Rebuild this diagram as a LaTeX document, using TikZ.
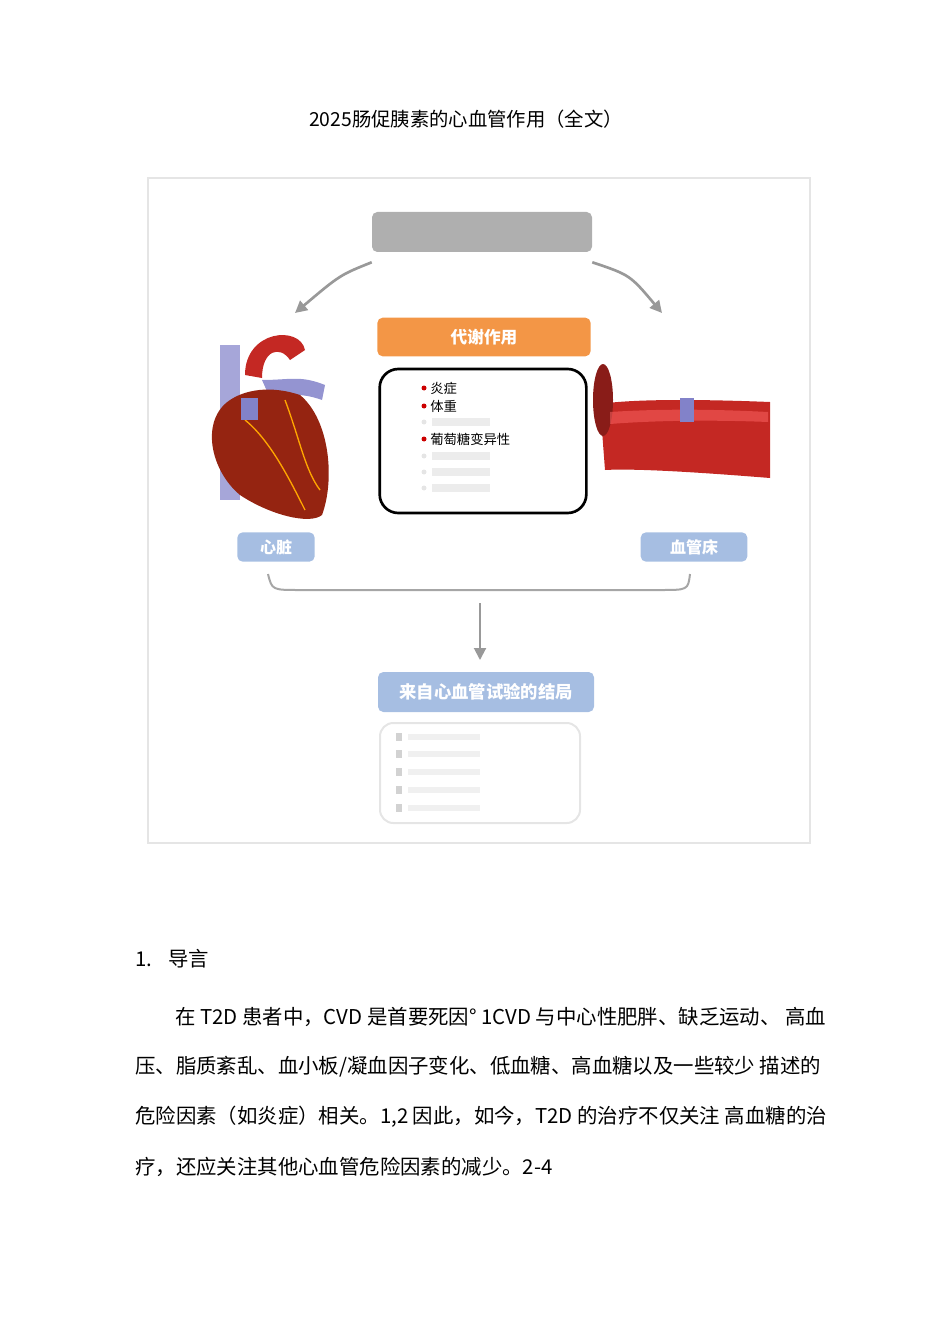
\documentclass[tikz,border=0pt]{standalone}
\usepackage{fontspec}
\newfontfamily\cjk{Noto Sans CJK SC}
\usetikzlibrary{arrows.meta}
\definecolor{lblue}{RGB}{166,190,226}
\definecolor{orng}{RGB}{243,150,70}
\definecolor{gbox}{RGB}{175,175,175}
\definecolor{redv}{RGB}{196,40,35}
\definecolor{darkred}{RGB}{130,20,20}
\tikzset{
 lbl/.style={fill=lblue,rounded corners=4pt,text=white,font=\cjk\fontsize{12}{14}\selectfont\bfseries},
 body/.style={anchor=west,font=\cjk\fontsize{15.3}{17}\selectfont,inner sep=0pt},
 bul/.style={anchor=west,font=\cjk\fontsize{10}{12}\selectfont,inner sep=0pt},
 garrow/.style={draw=gray!80,line width=2pt,-{Triangle[length=9pt,width=9pt]}},
}
\begin{document}
\begin{tikzpicture}[x=0.75pt,y=-0.75pt]
\useasboundingbox (0,0) rectangle (950,1344);
\node[font=\cjk\fontsize{14.5}{16}\selectfont] (title) at (466,119) {2025肠促胰素的心血管作用（全文）};
\draw[gray!20,line width=1.5pt] (148,178) rectangle (810,843);
% top gray box
\node[fill=gbox,rounded corners=4pt,minimum width=165pt,minimum height=30pt] (top) at (482,232) {};
\coordinate (la) at (295,313);
\coordinate (ra) at (662,313);
\draw[garrow] (top.south west)++(0,10) .. controls (340,275) .. (la);
\draw[garrow] (top.south east)++(0,10) .. controls (630,275) .. (ra);
% orange
\node[fill=orng,rounded corners=4pt,minimum width=160pt,minimum height=29pt,text=white,font=\cjk\fontsize{12.5}{14}\selectfont\bfseries] (meta) at (484,337) {代谢作用};
\node[draw=black,line width=2pt,rounded corners=14pt,minimum width=155pt,minimum height=108pt] (mbox) at (483,441) {};
\foreach \y/\t in {388/炎症,406/体重,439/葡萄糖变异性}{
 \fill[red!80!black] (424,\y) circle (2.5);
 \node[bul] at (430,\y) {\t};
}
\foreach \y in {422,456,472,488}{\fill[gray!20] (424,\y) circle (2.5); \fill[gray!15] (432,\y-4) rectangle (490,\y+4);}
% heart
\fill[gray!60!blue!50] (220,345) rectangle (240,500);
\fill[redv] (245,375) .. controls (245,330) and (300,325) .. (305,350) -- (290,360) .. controls (280,345) and (262,350) .. (262,378) -- cycle;
\fill[gray!60!blue!60] (262,380) .. controls (290,380) and (300,375) .. (325,385) -- (322,400) .. controls (300,392) and (285,395) .. (270,398) -- cycle;
\fill[darkred!85!orange] (230,400) .. controls (200,420) and (210,470) .. (240,495) .. controls (270,515) and (310,525) .. (322,515) .. controls (335,480) and (330,420) .. (300,395) .. controls (270,385) and (245,390) .. (230,400) -- cycle;
\draw[orange!70!yellow,line width=1pt] (245,420) .. controls (270,440) and (290,480) .. (305,510);
\draw[orange!70!yellow,line width=1pt] (285,400) .. controls (300,440) and (305,470) .. (320,490);
\fill[gray!60!blue!70] (241,398) rectangle (258,420);
% vessel
\fill[redv] (600,404) .. controls (640,398) and (720,400) .. (770,402) -- (770,478) .. controls (720,474) and (640,468) .. (605,470) -- cycle;
\fill[redv!70!black] (603,400) ellipse (10 and 36);
\fill[red!60!white,opacity=0.5] (610,412) .. controls (670,408) and (730,410) .. (768,412) -- (768,422) .. controls (720,420) and (660,420) .. (610,424) -- cycle;
\fill[gray!60!blue!70] (680,398) rectangle (694,422);
% labels
\node[lbl,minimum width=58pt,minimum height=22pt] (heart) at (276,547) {心脏};
\node[lbl,minimum width=80pt,minimum height=22pt] (vessel) at (694,547) {血管床};
\coordinate (bl) at (268,574);
\coordinate (br) at (690,574);
\draw[gray!70,line width=1.5pt] (bl) .. controls (272,590) .. (300,590) -- (660,590) .. controls (688,590) .. (br);
\coordinate (as) at (480,603);
\node[lbl,minimum width=162pt,minimum height=30pt,font=\cjk\fontsize{13}{15}\selectfont\bfseries] (res) at (486,692) {来自心血管试验的结局};
\draw[gray!80,line width=1.5pt,-{Triangle[length=9pt,width=9pt]}] (as) -- (480,660);
\node[draw=gray!20,line width=1.5pt,rounded corners=10pt,minimum width=150pt,minimum height=75pt] (rbox) at (480,773) {};
\foreach \y in {737,754,772,790,808}{\fill[gray!35] (396,\y-4) rectangle (402,\y+4); \fill[gray!12] (408,\y-3) rectangle (480,\y+3);}
% text
\node[body] (h1) at (135,959) {1.\hspace{12pt}导言};
\node[body] (p1) at (175,1017) {在 T2D 患者中，CVD 是首要死因° 1CVD 与中心性肥胖、缺乏运动、 高血};
\node[body] (p2) at (135,1067) {压、脂质紊乱、血小板/凝血因子变化、低血糖、高血糖以及一些较少 描述的};
\node[body] (p3) at (135,1117) {危险因素（如炎症）相关。1,2 因此，如今，T2D 的治疗不仅关注 高血糖的治};
\node[body] (p4) at (135,1167) {疗，还应关注其他心血管危险因素的减少。2-4};
\end{tikzpicture}
\end{document}
